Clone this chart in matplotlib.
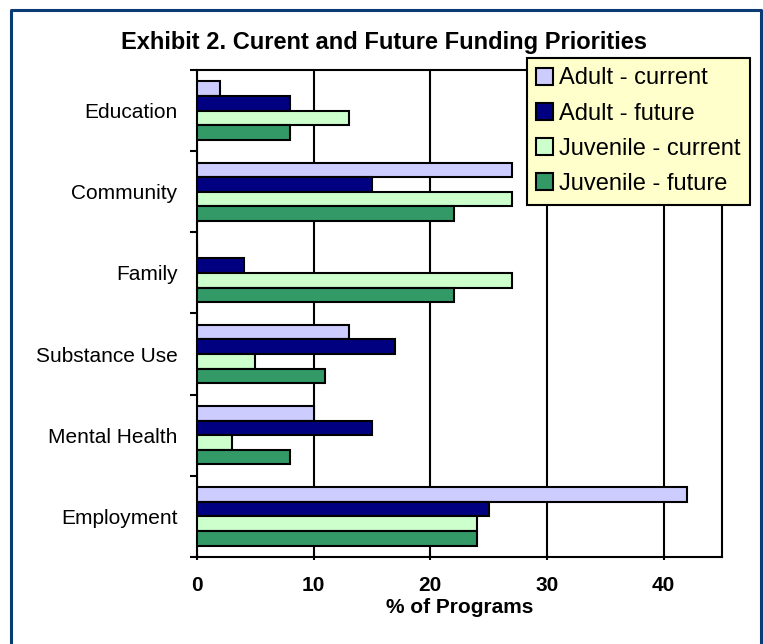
import numpy as np
import matplotlib.pyplot as plt

plt.rcParams['font.family'] = ['Liberation Sans', 'DejaVu Sans']

categories = ["Education", "Community", "Family", "Substance Use", "Mental Health", "Employment"]
series_names = ["Adult - current", "Adult - future", "Juvenile - current", "Juvenile - future"]
adult_current = [2, 27, 0, 13, 10, 42]
adult_future = [8, 15, 4, 17, 15, 25]
juvenile_current = [13, 27, 27, 5, 3, 24]
juvenile_future = [8, 22, 22, 11, 8, 24]
colors = ["#ccccff", "#000080", "#ccffcc", "#339966"]

series = [adult_current, adult_future, juvenile_current, juvenile_future]

fig = plt.figure(figsize=(7.63, 6.44), dpi=100)
ax = fig.add_axes([0.2582, 0.1351, 0.6881, 0.7562])

# outer frame (open at the bottom)
fig.add_artist(plt.Line2D([11 / 763, 11 / 763, 761 / 763, 761 / 763],
                          [0, 1 - 10 / 644, 1 - 10 / 644, 0],
                          transform=fig.transFigure, color="#0b3b74", lw=2.2))

n = len(categories)
bar_h = 0.18
y = np.arange(n)
for i, (vals, col, name) in enumerate(zip(series, colors, series_names)):
    ax.barh(y - 1.5 * bar_h + i * bar_h, vals, height=bar_h, color=col,
            edgecolor="black", linewidth=1.5, label=name, zorder=3)

ax.set_ylim(n - 0.5, -0.5)
ax.set_xlim(0, 45)
ax.set_xticks([0, 10, 20, 30, 40])
ax.set_xticklabels(["0", "10", "20", "30", "40"], fontsize=15, fontweight="bold")
ax.set_yticks(y)
ax.set_yticklabels(categories, fontsize=15)
ax.tick_params(axis="y", length=0, pad=14)
ax.set_yticks(np.arange(-0.5, n, 1), minor=True)
ax.tick_params(axis="y", which="minor", length=5, width=1.5, direction="out")
ax.tick_params(axis="x", length=5, width=1.5, direction="inout", pad=11)
ax.xaxis.grid(True, color="black", linewidth=1.5, zorder=0)
for s in ["left", "bottom", "right", "top"]:
    ax.spines[s].set_linewidth(1.5)
ax.set_xlabel("% of Programs", fontsize=15, fontweight="bold", labelpad=2)

fig.text(0.503, 1 - 43 / 644, "Exhibit 2. Curent and Future Funding Priorities",
         ha="center", va="center", fontsize=17, fontweight="bold")

leg = ax.legend(loc="upper left", bbox_to_anchor=(527 / 763, 1 - 58 / 644),
                bbox_transform=fig.transFigure, fontsize=17, frameon=True,
                fancybox=False, edgecolor="black", facecolor="#ffffcc",
                framealpha=1, handlelength=0.72, handleheight=0.72,
                handletextpad=0.25, labelspacing=0.56, borderpad=0.4,
                borderaxespad=0)
leg.get_frame().set_linewidth(1.5)
leg.set_zorder(10)

fig.savefig("out.png", dpi=100)
